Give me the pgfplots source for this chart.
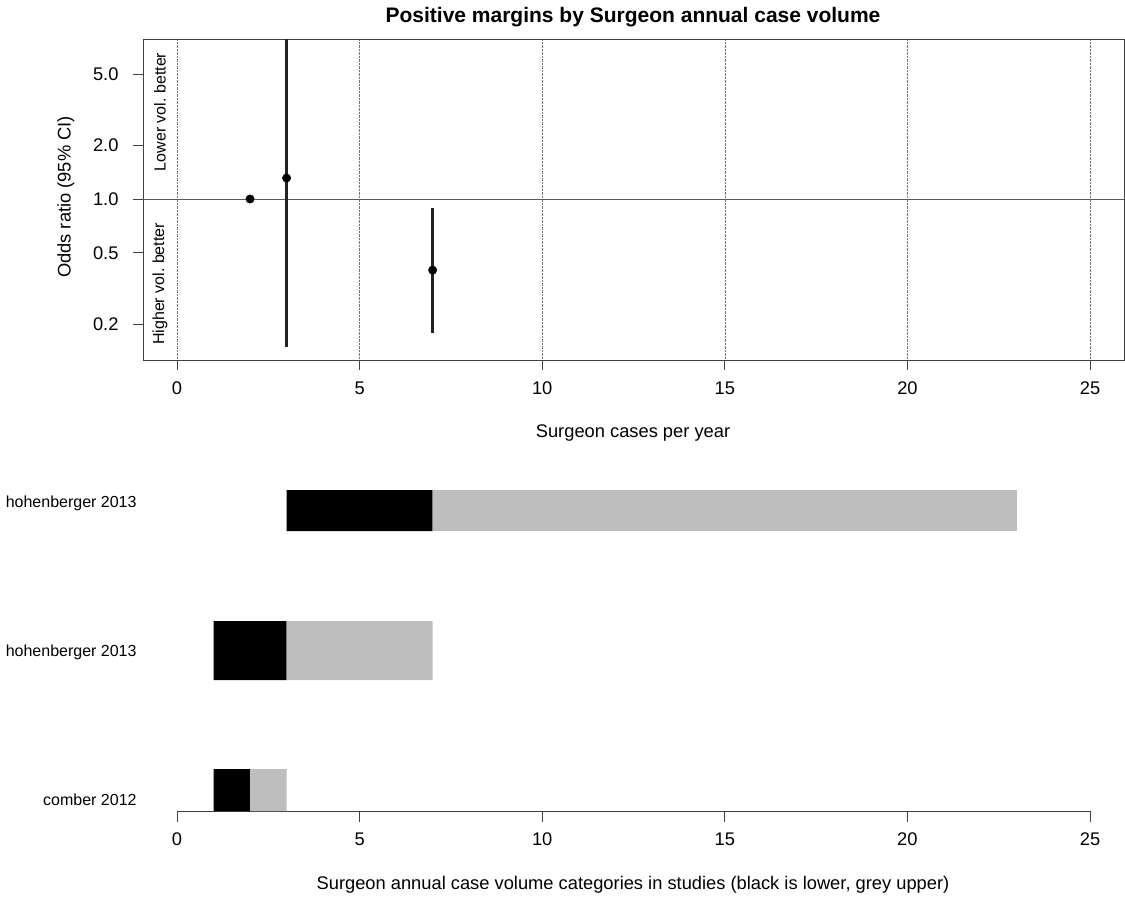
\documentclass[border=0pt]{standalone}
\usepackage{fontspec}
\setmainfont{Liberation Sans}
\usepackage{pgfplots}
\pgfplotsset{compat=1.18}
\definecolor{rgrey}{HTML}{BEBEBE}
\definecolor{cigrey}{HTML}{222222}
\begin{document}
\begin{tikzpicture}[x=1pt,y=1pt]
\useasboundingbox (0,0) rectangle (1125,-904);
\pgfplotsset{every axis/.append style={font=\fontsize{18.3}{22}\selectfont},
  /pgf/number format/assume math mode=true}
% ---------- top panel ----------
\begin{axis}[at={(143pt,-360pt)}, anchor=south west, scale only axis,
  width=981pt, height=321pt,
  xmin=-0.931, xmax=25.93, ymode=log, ymin=0.1257, ymax=7.85,
  xtick={0,5,10,15,20,25}, ytick={0.2,0.5,1,2,5},
  yticklabels={0.2,0.5,1.0,2.0,5.0},
  tick align=outside, major tick length=10pt,
  xtick pos=bottom, ytick pos=left,
  xmajorgrids, grid style={densely dotted, black!55, line width=0.6pt},
  axis line style={black!75, line width=0.8pt},
  tick style={black!75, line width=0.8pt},
  xticklabel style={yshift=-8pt}, yticklabel style={xshift=-11pt},
  clip=true]
\addplot[black!65, line width=0.9pt] coordinates {(-0.931,1) (25.93,1)};
\addplot[cigrey, line width=2.6pt] coordinates {(3,0.148) (3,20)};
\addplot[cigrey, line width=2.6pt] coordinates {(7,0.179) (7,0.89)};
\addplot[only marks, mark=*, mark size=4.2pt, black] coordinates {(2,1.0) (3,1.31) (7,0.40)};
\node[rotate=90, font=\fontsize{16}{19}\selectfont] at (axis cs:-0.465,3.07) {Lower vol.\ better};
\node[rotate=90, font=\fontsize{16}{19}\selectfont] at (axis cs:-0.465,0.335) {Higher vol.\ better};
\end{axis}
% ---------- bottom panel ----------
\begin{axis}[at={(177pt,-811pt)}, anchor=south west, scale only axis,
  width=913pt, height=341pt,
  xmin=0, xmax=25, ymin=0, ymax=341,
  axis x line*=bottom, axis y line=none,
  axis line style={-, black!75, line width=0.8pt},
  tick style={black!75, line width=0.8pt},
  xtick={0,5,10,15,20,25}, tick align=outside, major tick length=11pt,
  xticklabel style={yshift=-7pt},
  clip=false]
\addplot[fill=black, draw=none] coordinates {(3,280) (7,280) (7,321) (3,321) (3,280)};
\addplot[fill=rgrey, draw=none] coordinates {(7,280) (23,280) (23,321) (7,321) (7,280)};
\addplot[fill=black, draw=none] coordinates {(1,131) (3,131) (3,190) (1,190) (1,131)};
\addplot[fill=rgrey, draw=none] coordinates {(3,131) (7,131) (7,190) (3,190) (3,131)};
\addplot[fill=black, draw=none] coordinates {(1,0) (2,0) (2,42) (1,42) (1,0)};
\addplot[fill=rgrey, draw=none] coordinates {(2,0) (3,0) (3,42) (2,42) (2,0)};
\node[anchor=east, font=\fontsize{16}{19}\selectfont] at (axis cs:-1.01,308) {hohenberger 2013};
\node[anchor=east, font=\fontsize{16}{19}\selectfont] at (axis cs:-1.01,159) {hohenberger 2013};
\node[anchor=east, font=\fontsize{16}{19}\selectfont] at (axis cs:-1.01,11) {comber 2012};
\end{axis}
% ---------- titles and axis labels ----------
\node[font=\fontsize{21}{25}\selectfont\bfseries] at (633,-17) {Positive margins by Surgeon annual case volume};
\node[font=\fontsize{18.3}{22}\selectfont, rotate=90] at (66,-197) {Odds ratio (95\% CI)};
\node[font=\fontsize{18.3}{22}\selectfont] at (633,-433) {Surgeon cases per year};
\node[font=\fontsize{18.3}{22}\selectfont] at (633,-885) {Surgeon annual case volume categories in studies (black is lower, grey upper)};
\end{tikzpicture}
\end{document}
